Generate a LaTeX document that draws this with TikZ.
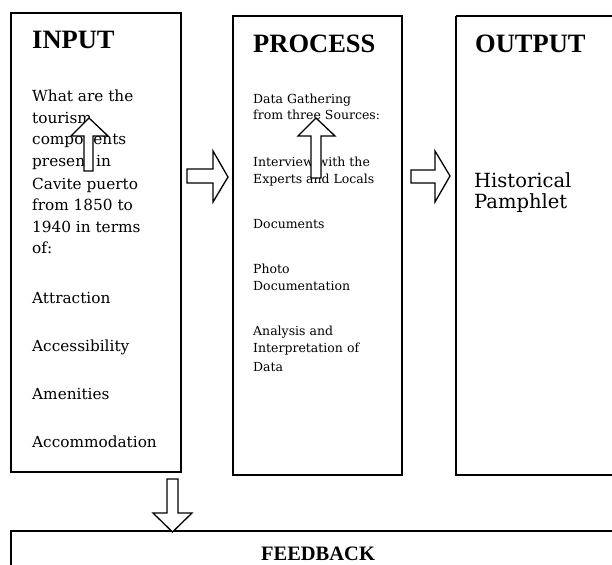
\documentclass[tikz,border=0pt]{standalone}
\usepackage{fontspec}
\setmainfont{DejaVu Serif}
\newfontfamily\titlefont{Liberation Serif}
\tikzset{
  box/.style={draw=black, line width=1.4pt},
  blockarrow/.style={draw=black, fill=white, line width=1.3pt, line join=miter},
  ttl/.style={anchor=base west, inner sep=0pt, font=\titlefont\bfseries\fontsize{26.5}{30}\selectfont},
  inp/.style={anchor=base west, inner sep=0pt, font=\fontsize{15.3}{18}\selectfont},
  prc/.style={anchor=base west, inner sep=0pt, font=\fontsize{12.5}{15}\selectfont},
  outp/.style={anchor=base west, inner sep=0pt, font=\fontsize{19.5}{22}\selectfont},
}
\begin{document}
\begin{tikzpicture}[x=1pt,y=-1pt]
\useasboundingbox (0,0) rectangle (612,564);
\clip (0,0) rectangle (612,564);
% boxes
\draw[box] (11,13) rectangle (181,472);
\draw[box] (233,16) rectangle (402,475);
\draw[box] (456,16) -- (625,16) (456,16) -- (456,475) -- (625,475);
\draw[box] (11,580) -- (11,531) -- (625,531);
% titles
\node[ttl] (tin) at (32,49) {INPUT};
\node[ttl] (tpr) at (253,53) {PROCESS};
\node[ttl] (tou) at (475,53) {OUTPUT};
\node[anchor=base, inner sep=0pt, font=\titlefont\bfseries\fontsize{20.5}{24}\selectfont] (tfb) at (318,560) {FEEDBACK};
% input text
\foreach \y/\t [count=\i] in {102/What are the, 124/tourism, 145/components, 167/present in, 189/Cavite puerto, 210/from 1850 to, 232/1940 in terms, 253/of:, 303/Attraction, 351/Accessibility, 399/Amenities, 447/Accommodation}
  \node[inp] (in\i) at (32,\y) {\t};
% process text
\foreach \y/\t [count=\i] in {104/Data Gathering, 120/from three Sources:, 167/Interview with the, 183/Experts and Locals, 228/Documents, 273/Photo, 290/Documentation, 335/Analysis and, 352/Interpretation of, 371/Data}
  \node[prc] (pr\i) at (253,\y) {\t};
% output text
\node[outp] (ou1) at (474,187) {Historical};
\node[outp] (ou2) at (474,208) {Pamphlet};
% block arrows
\draw[blockarrow] (187,169) -- (213,169) -- (213,151) -- (228,177) -- (213,202) -- (213,183) -- (187,183) -- cycle;
\draw[blockarrow] (411,170) -- (435,170) -- (435,151) -- (450,176) -- (435,202) -- (435,183) -- (411,183) -- cycle;
\draw[blockarrow] (84,171) -- (84,136) -- (71,136) -- (89,118) -- (108,136) -- (93,136) -- (93,171) -- cycle;
\draw[blockarrow] (311,178) -- (311,136) -- (298,136) -- (316,118) -- (335,136) -- (321,136) -- (321,178) -- cycle;
\draw[blockarrow] (167,479) -- (178,479) -- (178,513) -- (192,513) -- (172.5,532) -- (153,513) -- (167,513) -- cycle;
\end{tikzpicture}
\end{document}
